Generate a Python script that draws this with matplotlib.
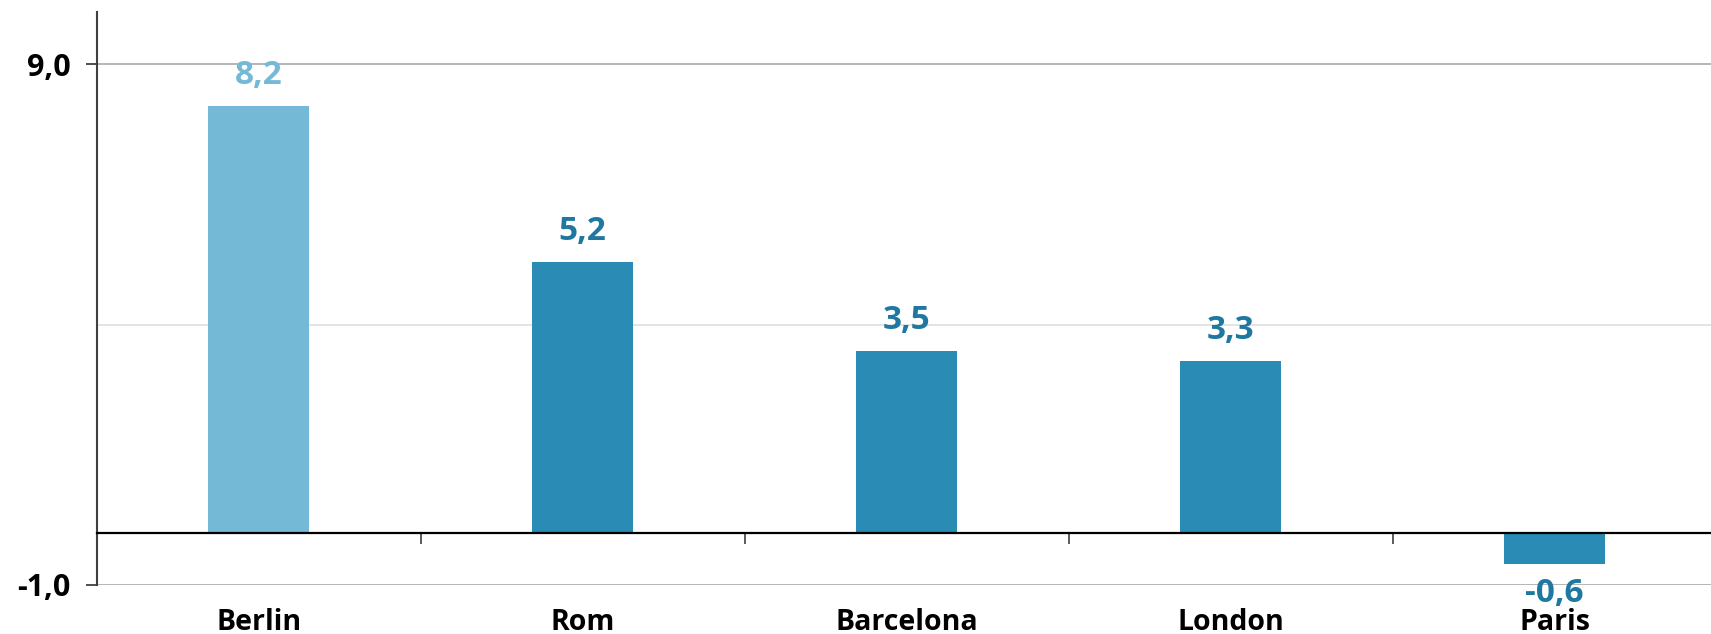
import matplotlib.pyplot as plt
from matplotlib.ticker import FixedLocator

# Values per city
cities = ["Berlin", "Rom", "Barcelona", "London", "Paris"]
values = [8.2, 5.2, 3.5, 3.3, -0.6]
bar_colors = ["#74B9D6", "#2A8CB5", "#2A8CB5", "#2A8CB5", "#2A8CB5"]
label_colors = ["#74B9D6", "#1F78A0", "#1F78A0", "#1F78A0", "#1F78A0"]
y_ticks = [-1, 9]
y_labels = ["-1,0", "9,0"]

plt.rcParams['font.family'] = ['Open Sans', 'DejaVu Sans']
plt.rcParams['font.weight'] = 'bold'

fig = plt.figure(figsize=(17.11, 6.34), dpi=100)
ax = fig.add_axes([0.0565, 0.0773, 0.9468, 0.9033])

x = list(range(len(cities)))
ax.bar(x, values, width=0.313, color=bar_colors, zorder=2)

ax.set_xlim(-0.5, 4.5)
ax.set_ylim(-1, 10)

# gridlines
for g, c in [(9, "#B0B0B0"), (4, "#E2E2E2"), (-1, "#B0B0B0")]:
    ax.axhline(g, color=c, lw=1.3, zorder=1)

# value labels
for xi, v, c in zip(x, values, label_colors):
    off = 22 if v >= 0 else -21
    ax.annotate(f"{v:.1f}".replace(".", ","), (xi, v), xytext=(0, off),
                textcoords="offset points", ha="center", va="center",
                fontsize=24, fontweight="bold", color=c)

# axes styling
for s in ["top", "right"]:
    ax.spines[s].set_visible(False)
ax.spines["left"].set_color("#404040")
ax.spines["left"].set_linewidth(1.5)
ax.spines["bottom"].set_position(("data", 0))
ax.spines["bottom"].set_color("black")
ax.spines["bottom"].set_linewidth(1.6)

ax.set_yticks(y_ticks)
ax.set_yticklabels(y_labels)
ax.tick_params(axis="y", length=8, width=1.3, color="#404040", pad=11,
               labelsize=22)

ax.set_xticks(x)
ax.set_xticklabels(cities)
ax.xaxis.set_minor_locator(FixedLocator([0.5, 1.5, 2.5, 3.5]))
ax.tick_params(axis="x", which="major", length=0, pad=54, labelsize=20.5)
ax.tick_params(axis="x", which="minor", length=8, width=1.2, color="#404040",
               direction="out")
for t in ax.get_xticklabels() + ax.get_yticklabels():
    t.set_fontweight("bold")

fig.savefig("out.png", dpi=100)
